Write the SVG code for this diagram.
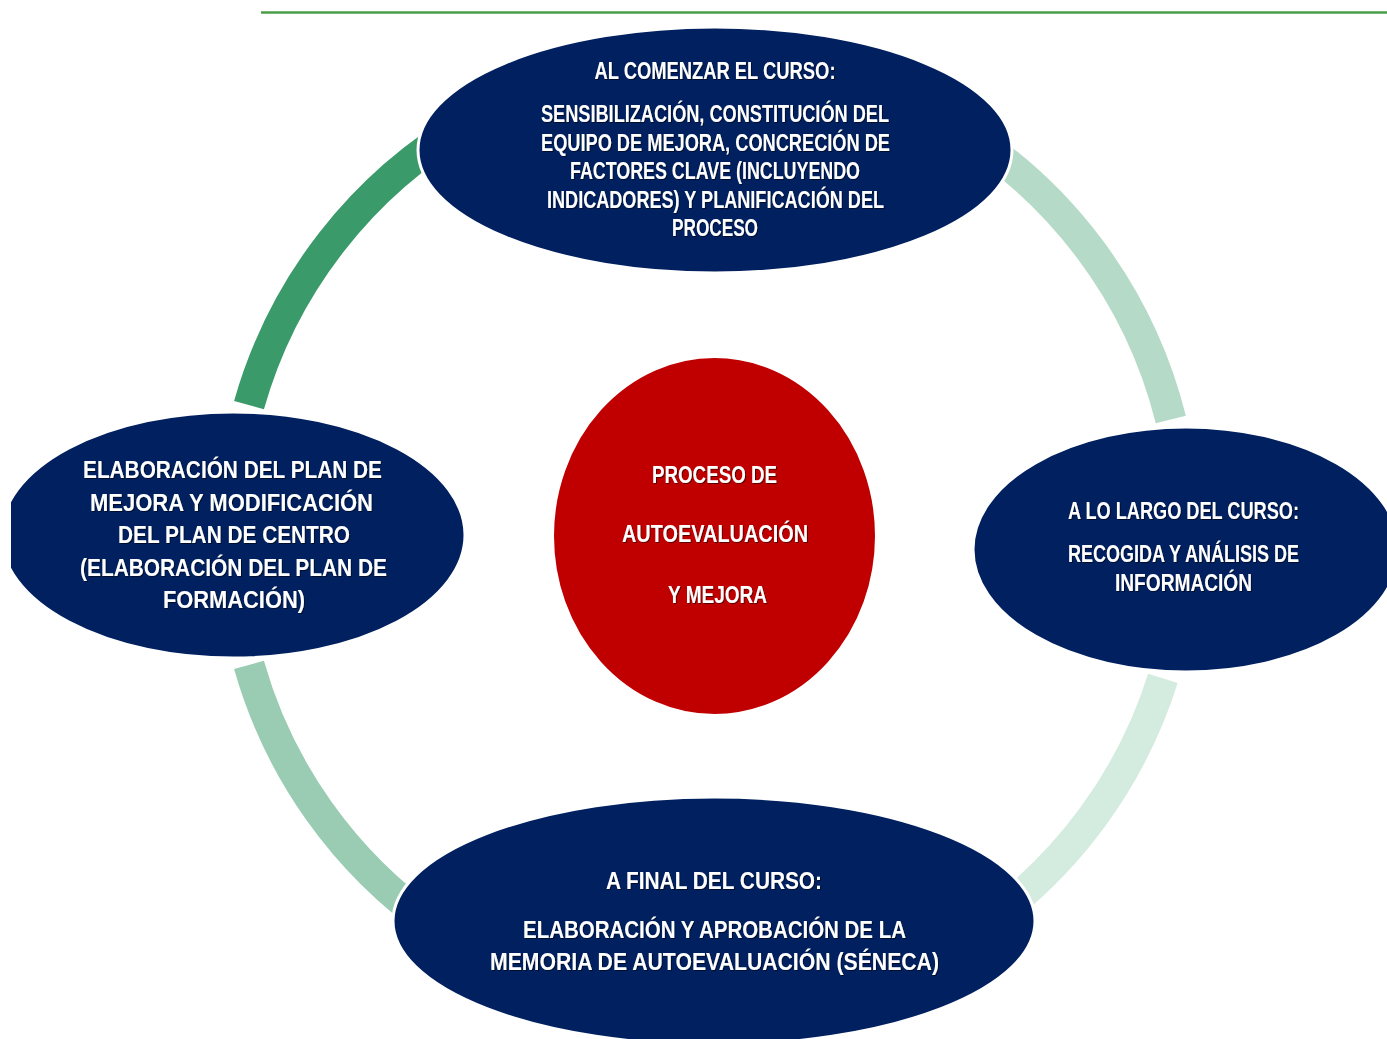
<svg xmlns="http://www.w3.org/2000/svg" width="1387" height="1039" viewBox="0 0 1387 1039">
<defs>
<style>
.arc{fill:none;stroke-width:31;stroke-linecap:butt}
.node{fill:#002060;stroke:#ffffff;stroke-width:3}
.core{fill:#C00000;stroke:#ffffff;stroke-width:2}
.t{font-family:"Liberation Sans Narrow","Liberation Sans",Arial,sans-serif;font-weight:bold;fill:#ffffff;text-anchor:middle;font-size:23px;filter:url(#sh)}
</style>
<filter id="sh" x="-5%" y="-30%" width="110%" height="160%">
<feDropShadow dx="1" dy="1" stdDeviation="0.6" flood-color="#000000" flood-opacity="0.55"/>
</filter>
<clipPath id="page"><rect x="11" y="0" width="1376" height="1039"/></clipPath>
</defs>
<rect width="1387" height="1039" fill="#ffffff"/>
<line x1="261" y1="12.5" x2="1387" y2="12.5" stroke="#4A9E48" stroke-width="2.5"/>
<g id="connectors">
<path class="arc" stroke="#3A9A6A" d="M 249 405.1 A 477 477 0 0 1 469.5 121.9"/>
<path class="arc" stroke="#B5DAC7" d="M 946.5 121.9 A 477 477 0 0 1 1170.8 419.6"/>
<path class="arc" stroke="#D4EBDF" d="M 1162.9 678.4 A 477 477 0 0 1 981.6 925.7"/>
<path class="arc" stroke="#99CCB2" d="M 434.4 925.7 A 477 477 0 0 1 249 664.9"/>
</g>
<g id="node-top">
<ellipse class="node" cx="715" cy="150" rx="297" ry="123"/>
<text class="t" x="715" y="79" textLength="241" lengthAdjust="spacingAndGlyphs">AL COMENZAR EL CURSO:</text>
<text class="t" x="715" y="122" textLength="348" lengthAdjust="spacingAndGlyphs">SENSIBILIZACIÓN, CONSTITUCIÓN DEL</text>
<text class="t" x="715.5" y="150.5" textLength="349" lengthAdjust="spacingAndGlyphs">EQUIPO DE MEJORA, CONCRECIÓN DE</text>
<text class="t" x="715" y="179" textLength="290" lengthAdjust="spacingAndGlyphs">FACTORES CLAVE (INCLUYENDO</text>
<text class="t" x="715.5" y="207.5" textLength="337" lengthAdjust="spacingAndGlyphs">INDICADORES) Y PLANIFICACIÓN DEL</text>
<text class="t" x="715" y="236" textLength="86" lengthAdjust="spacingAndGlyphs">PROCESO</text>
</g>
<g id="node-right" clip-path="url(#page)">
<ellipse class="node" cx="1186" cy="549.5" rx="213" ry="122.5"/>
<text class="t" x="1183.5" y="519" font-size="22" textLength="231" lengthAdjust="spacingAndGlyphs">A LO LARGO DEL CURSO:</text>
<text class="t" x="1183.5" y="562" font-size="22" textLength="231" lengthAdjust="spacingAndGlyphs">RECOGIDA Y ANÁLISIS DE</text>
<text class="t" x="1183.5" y="591" font-size="22" textLength="137" lengthAdjust="spacingAndGlyphs">INFORMACIÓN</text>
</g>
<g id="node-bottom">
<ellipse class="node" cx="714" cy="921" rx="321" ry="124"/>
<text class="t" x="714" y="888.5" textLength="216" lengthAdjust="spacingAndGlyphs">A FINAL DEL CURSO:</text>
<text class="t" x="714.5" y="937.5" textLength="383" lengthAdjust="spacingAndGlyphs">ELABORACIÓN Y APROBACIÓN DE LA</text>
<text class="t" x="714.5" y="969.5" textLength="449" lengthAdjust="spacingAndGlyphs">MEMORIA DE AUTOEVALUACIÓN (SÉNECA)</text>
</g>
<g id="node-left" clip-path="url(#page)">
<ellipse class="node" cx="233" cy="535" rx="232" ry="123"/>
<text class="t" x="232.5" y="478" textLength="299" lengthAdjust="spacingAndGlyphs">ELABORACIÓN DEL PLAN DE</text>
<text class="t" x="231.5" y="510.5" textLength="283" lengthAdjust="spacingAndGlyphs">MEJORA Y MODIFICACIÓN</text>
<text class="t" x="234" y="543" textLength="232" lengthAdjust="spacingAndGlyphs">DEL PLAN DE CENTRO</text>
<text class="t" x="233.5" y="575.5" textLength="307" lengthAdjust="spacingAndGlyphs">(ELABORACIÓN DEL PLAN DE</text>
<text class="t" x="234" y="608" textLength="142" lengthAdjust="spacingAndGlyphs">FORMACIÓN)</text>
</g>
<g id="node-center">
<ellipse class="core" cx="714.5" cy="536" rx="161.5" ry="179"/>
<text class="t" x="714.5" y="483" font-size="21" textLength="125" lengthAdjust="spacingAndGlyphs">PROCESO DE</text>
<text class="t" x="715" y="542" font-size="21" textLength="186" lengthAdjust="spacingAndGlyphs">AUTOEVALUACIÓN</text>
<text class="t" x="717.5" y="603" font-size="21" textLength="99" lengthAdjust="spacingAndGlyphs">Y MEJORA</text>
</g>
</svg>
